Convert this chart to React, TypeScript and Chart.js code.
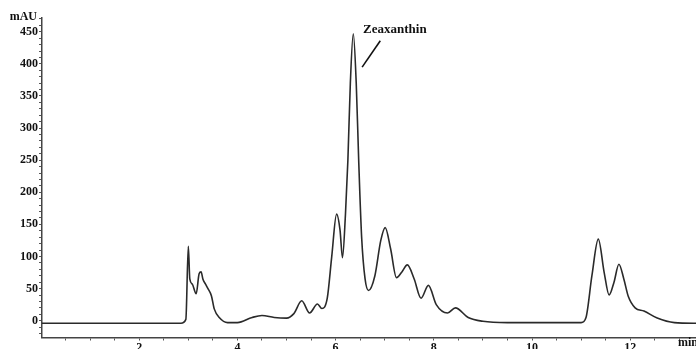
import React, { useEffect, useRef } from "react";
import { Chart, registerables } from "chart.js";

Chart.register(...registerables);

// Retention time (min) and absorbance (mAU)
const times: number[] = [
  0, 2.85, 2.95, 3.0, 3.03, 3.08, 3.16, 3.22, 3.26, 3.3, 3.35, 3.4, 3.47, 3.53, 3.63, 3.8, 4.0, 4.3, 4.5,
  4.75, 5.0, 5.15, 5.31, 5.47, 5.63, 5.72, 5.83, 5.92, 6.02, 6.09, 6.14, 6.2, 6.25, 6.3, 6.36, 6.42,
  6.47, 6.53, 6.6, 6.67, 6.8, 6.92, 7.01, 7.12, 7.24, 7.35, 7.46, 7.6, 7.74, 7.89, 8.05, 8.28, 8.44,
  8.7, 9.0, 9.5, 11.0, 11.1, 11.22, 11.35, 11.47, 11.57, 11.67, 11.77, 11.87, 11.96, 12.1, 12.28,
  12.55, 12.9, 13.4,
];
const absorbance: number[] = [
  -4, -4, 2, 116, 65, 57, 42, 73, 76, 64, 57, 50, 39, 18, 5, -3, -3, 5, 8,
  5, 4, 11, 31, 12, 26, 19, 35, 99, 166, 141, 98, 165, 250, 370, 447, 370,
  250, 130, 65, 47, 70, 125, 145, 112, 67, 76, 87, 65, 35, 55, 25, 12, 20,
  5, -1, -3, -3, 5, 70, 127, 75, 40, 60, 88, 65, 38, 20, 15,
  4, -3, -4,
];

const xLabels: number[] = [2, 4, 6, 8, 10, 12];
const yLabels: number[] = [0, 50, 100, 150, 200, 250, 300, 350, 400, 450];

const peakName = "Zeaxanthin";
const yUnit = "mAU";
const xUnit = "min";

const FONT = "'Liberation Serif', 'Times New Roman', serif";

export default function App() {
  const ref = useRef<HTMLCanvasElement | null>(null);

  useEffect(() => {
    document.body.style.margin = "0";
    const canvas = ref.current;
    if (!canvas) return;

    const labelPlugin = {
      id: "labels",
      afterDraw(chart: any) {
        const ctx = chart.ctx;
        const xs = chart.scales.x;
        const ys = chart.scales.y;
        ctx.save();
        ctx.fillStyle = "#111";
        ctx.font = `bold 12px ${FONT}`;
        ctx.textBaseline = "middle";
        ctx.textAlign = "right";
        ctx.fillText(yUnit, 37, 17);
        ctx.textAlign = "left";
        ctx.fillText(xUnit, 678, 343);
        // peak annotation
        ctx.font = `bold 13px ${FONT}`;
        ctx.textAlign = "left";
        ctx.fillText(peakName, xs.getPixelForValue(6.56), ys.getPixelForValue(454));
        ctx.strokeStyle = "#111";
        ctx.lineWidth = 1.6;
        ctx.beginPath();
        ctx.moveTo(xs.getPixelForValue(6.91), ys.getPixelForValue(436));
        ctx.lineTo(xs.getPixelForValue(6.54), ys.getPixelForValue(395));
        ctx.stroke();
        ctx.restore();
      },
    };

    const chart = new Chart(canvas, {
      type: "line",
      data: {
        datasets: [
          {
            data: times.map((t, i) => ({ x: t, y: absorbance[i] })),
            borderColor: "#2a2a2a",
            borderWidth: 1.6,
            pointRadius: 0,
            cubicInterpolationMode: "monotone",
            fill: false,
          },
        ],
      },
      options: {
        responsive: false,
        animation: false,
        layout: { padding: { top: 18, left: 0, right: 0, bottom: 0 } },
        plugins: { legend: { display: false }, tooltip: { enabled: false } },
        scales: {
          x: {
            type: "linear",
            min: 0.02,
            max: 13.34,
            afterFit(scale: any) {
              scale.height = 11.5;
            },
            afterBuildTicks(scale: any) {
              const t = [];
              for (let v = 0.5; v <= 13; v += 0.5) t.push({ value: v });
              scale.ticks = t;
            },
            border: { display: true, color: "#444", width: 1.5 },
            grid: { drawOnChartArea: false, drawTicks: true, tickLength: 3, color: "#555" },
            ticks: {
              autoSkip: false,
              maxRotation: 0,
              padding: 0,
              color: "#111",
              font: { family: FONT, weight: "bold", size: 12 },
              callback: (v: any) => (xLabels.includes(Number(v)) ? String(v) : ""),
            },
          },
          y: {
            type: "linear",
            min: -26.2,
            max: 471.5,
            afterFit(scale: any) {
              scale.width = 42;
            },
            afterBuildTicks(scale: any) {
              const t = [];
              for (let v = -20; v <= 470; v += 10) t.push({ value: v });
              scale.ticks = t;
            },
            border: { display: true, color: "#444", width: 1.5 },
            grid: { drawOnChartArea: false, drawTicks: true, tickLength: 3, color: "#555" },
            ticks: {
              autoSkip: false,
              padding: 1,
              color: "#111",
              font: { family: FONT, weight: "bold", size: 12 },
              callback: (v: any) => (yLabels.includes(Number(v)) ? String(v) : ""),
            },
          },
        },
      },
      plugins: [labelPlugin],
    } as any);

    return () => chart.destroy();
  }, []);

  return (
    <div style={{ position: "absolute", left: 0, top: 0, width: 696, height: 349, background: "#fff" }}>
      <canvas ref={ref} width={696} height={349} />
    </div>
  );
}
